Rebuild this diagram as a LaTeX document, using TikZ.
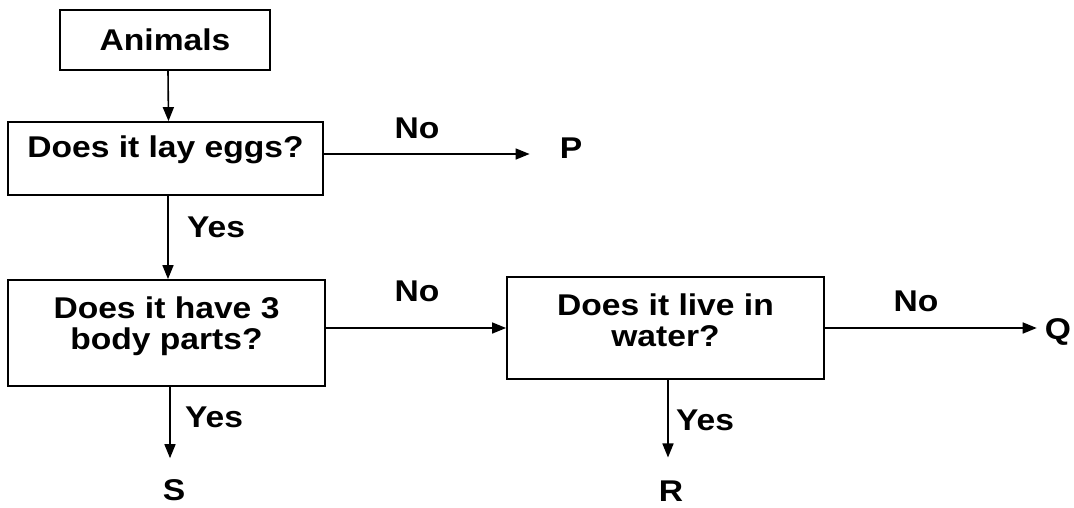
\documentclass[tikz,border=0pt]{standalone}
\usepackage{fontspec}
\setmainfont{Liberation Sans}[FakeStretch=1.12]
\usetikzlibrary{arrows.meta,calc}
\begin{document}
\begin{tikzpicture}[x=1pt,y=-1pt,
  every node/.style={font=\fontsize{30}{31}\selectfont\bfseries, inner sep=0pt},
  box/.style={draw, line width=1.8pt, align=center},
  arr/.style={line width=1.6pt, -{Triangle[length=14pt,width=11pt]}},
  lbl/.style={}
]
\useasboundingbox (0,0) rectangle (1074,507);
\node[box, minimum width=210pt, minimum height=60pt] (animals) at (165,40) {Animals};
\node[box, minimum width=315pt, minimum height=73pt, text height=21pt, text depth=24pt] (lay) at (165.5,158.5) {Does it lay eggs?};
\node[box, minimum width=317pt, minimum height=106pt, text height=52pt, text depth=20pt] (parts) at (166.5,333) {Does it have 3\\body parts?};
\node[box, minimum width=317pt, minimum height=102pt, text height=52pt, text depth=16pt] (water) at (665.5,328) {Does it live in\\water?};

\node (P) at (571,148) {P};
\node (Q) at (1058,332) {Q};
\node (S) at (174,490) {S};
\node (R) at (671,491) {R};

\node[lbl] (no1) at (417,128) {No};
\node[lbl] (no2) at (417,291) {No};
\node[lbl] (no3) at (916,301) {No};
\node[lbl] (yes1) at (216,227) {Yes};
\node[lbl] (yes2) at (214,417) {Yes};
\node[lbl] (yes3) at (705,420) {Yes};

\draw[arr] ([xshift=3pt]animals.south) -- ([xshift=3pt]lay.north);
\draw[arr] ([yshift=4.5pt]lay.east) -- ([yshift=4.5pt]lay.east -| P.west) [shorten >=30pt];
\draw[arr] ([xshift=2.5pt]lay.south) -- ([xshift=2.5pt]lay.south |- parts.north);
\draw[arr] (water.west -| parts.east) -- (water.west);
\draw[arr, shorten >=8pt] (water.east) -- (water.east -| Q.west);
\draw[arr, shorten >=21pt] ([xshift=3.5pt]parts.south) -- ([xshift=3.5pt]parts.south |- S.north);
\draw[arr, shorten >=23pt] ([xshift=2.5pt]water.south) -- ([xshift=2.5pt]water.south |- R.north);
\end{tikzpicture}
\end{document}
